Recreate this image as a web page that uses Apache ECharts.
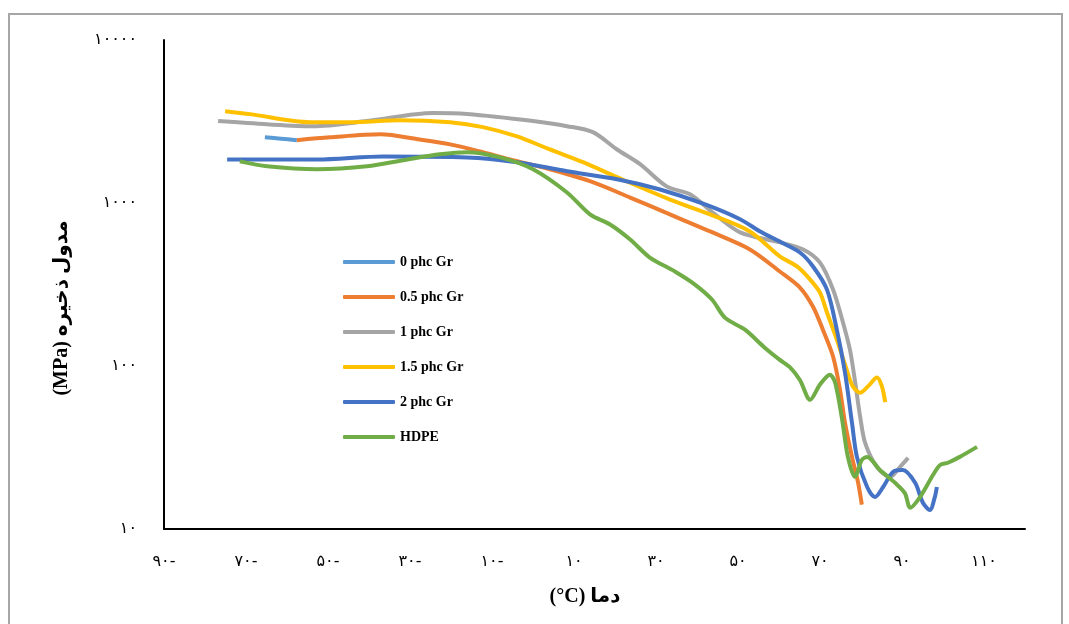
<!DOCTYPE html>
<html>
<head>
<meta charset="utf-8">
<script src="https://cdn.jsdelivr.net/npm/echarts@6/dist/echarts.min.js"></script>
<style>
  html, body { margin: 0; padding: 0; background: #fff; }
  #chart { width: 1069px; height: 624px; }
</style>
</head>
<body>
<div id="chart"></div>
<script>
// series names
var names = ['0 phc Gr', '0.5 phc Gr', '1 phc Gr', '1.5 phc Gr', '2 phc Gr', 'HDPE'];
var colors = ['#5B9BD5', '#ED7D31', '#A5A5A5', '#FFC000', '#4472C4', '#70AD47'];

// temperature (C) and storage modulus (MPa)
var temp0 = [-65.4, -61.5, -57.6];
var mod0 = [2530, 2480, 2430];

var temp05 = [-57.6, -49.5, -37.3, -27.6, -20.2, -12.9, -5.6, 4.1, 13.9, 23.7, 33.4, 43.2, 52.9, 60.2, 65.1, 68.3, 70.7, 73.2, 74.9, 76.1, 77.8, 79.3, 80.2];
var mod05 = [2430, 2530, 2640, 2450, 2290, 2070, 1850, 1610, 1360, 1080, 851, 669, 519, 380, 303, 231, 167, 114, 71, 44.8, 27.7, 19.2, 14.1];

var temp1 = [-76.8, -64.9, -53.7, -40.5, -24.4, -16.1, 0, 8.3, 14.6, 20.5, 26.1, 32.7, 38.3, 44.4, 50.5, 60.2, 65.9, 70, 73.2, 75.6, 77.3, 78.5, 79.8, 81, 83.9, 87.1, 89.5, 91.5];
var mod1 = [3180, 3040, 2960, 3180, 3560, 3510, 3180, 2960, 2720, 2130, 1730, 1260, 1130, 851, 661, 573, 519, 431, 294, 185, 126, 82, 48.7, 33.8, 24, 20.9, 24, 27.3];

var temp15 = [-75.1, -69, -54.4, -44.6, -32.4, -20.2, -12.2, -3.9, 4.1, 12.2, 20.5, 33.4, 43.2, 52.9, 60.2, 64.4, 67.6, 70, 71.7, 74.1, 76.5, 78, 79.8, 81.7, 83.9, 85.1, 85.9];
var mod15 = [3660, 3510, 3130, 3130, 3220, 3130, 2920, 2560, 2130, 1780, 1440, 1050, 851, 669, 470, 408, 339, 282, 213, 145, 95, 75, 68.5, 75, 85, 75, 60];

var temp2 = [-74.6, -52.7, -36.6, -16.1, -3.9, 8.3, 20.5, 31, 42, 50.5, 55.4, 60.2, 65.1, 68.3, 71.7, 74.1, 76.1, 77.8, 79, 81.5, 83.4, 85.4, 87.8, 90.2, 93.2, 95.1, 96.8, 98, 98.5];
var mod2 = [1850, 1850, 1930, 1905, 1780, 1565, 1400, 1210, 980, 795, 669, 580, 497, 408, 294, 167, 91, 44.8, 27.7, 18.1, 15.7, 18.1, 22.4, 23, 19.2, 14.5, 13.1, 15.7, 18.1];

var tempH = [-71.5, -64.9, -52.7, -40.5, -30.7, -22.7, -16.1, -8, 0, 8.3, 13.9, 18.8, 23.7, 28.5, 34.6, 39.5, 43.7, 46.8, 51.7, 56.6, 60.2, 62.7, 65.1, 67.6, 70, 72.4, 73.7, 75.4, 76.8, 78.5, 80.2, 81.5, 84.6, 88.3, 90.7, 92, 94.4, 97.6, 99.3, 101.2, 104.1, 108.3];
var modH = [1800, 1680, 1610, 1680, 1850, 1990, 2050, 1905, 1610, 1160, 851, 738, 597, 463, 380, 316, 255, 198, 167, 129, 109, 98, 82, 62, 77, 88.5, 79, 46.8, 27.7, 20.9, 26.5, 27.7, 23, 19.2, 16.6, 13.5, 15.7, 21.5, 24.7, 25.5, 27.7, 31.9];

var temps = [temp0, temp05, temp1, temp15, temp2, tempH];
var mods = [mod0, mod05, mod1, mod15, mod2, modH];

// persian digits for tick labels
var faDigits = ['۰', '۱', '۲', '۳', '۴', '۵', '۶', '۷', '۸', '۹'];
function toFa(v) {
    var s = String(Math.abs(Math.round(v))).replace(/[0-9]/g, function (d) { return faDigits[+d]; });
    return v < 0 ? s + '-' : s;
}

function pairs(t, m) {
    return t.map(function (x, i) { return [x, m[i]]; });
}

var myChart = echarts.init(document.getElementById('chart'));
myChart.setOption({
    animation: false,
    backgroundColor: '#FFFFFF',
    color: colors,
    grid: { left: 164, top: 40, right: 44, bottom: 95 },
    legend: {
        orient: 'vertical',
        left: 343,
        top: 255,
        padding: 0,
        icon: 'roundRect',
        itemWidth: 52,
        itemHeight: 4,
        itemGap: 21,
        data: names,
        textStyle: {
            fontFamily: "'Liberation Serif', serif",
            fontWeight: 'bold',
            fontSize: 14,
            lineHeight: 14,
            color: '#000'
        }
    },
    xAxis: {
        type: 'value',
        min: -90,
        max: 120,
        interval: 20,
        splitLine: { show: false },
        axisTick: { show: false },
        axisLine: { onZero: false, lineStyle: { color: '#000', width: 2 } },
        axisLabel: {
            margin: 25,
            showMaxLabel: false,
            color: '#000',
            fontSize: 16,
            fontFamily: "'DejaVu Sans', sans-serif",
            formatter: toFa
        }
    },
    yAxis: {
        type: 'log',
        logBase: 10,
        min: 10,
        max: 10000,
        splitLine: { show: false },
        axisTick: { show: false },
        axisLine: { onZero: false, lineStyle: { color: '#000', width: 2 } },
        axisLabel: {
            margin: 27,
            color: '#000',
            fontSize: 16,
            fontFamily: "'DejaVu Sans', sans-serif",
            formatter: toFa
        }
    },
    graphic: [
        {
            type: 'rect',
            shape: { x: 9, y: 14, width: 1053, height: 640 },
            style: { fill: 'none', stroke: '#A6A6A6', lineWidth: 2 },
            silent: true
        },
        {
            type: 'text',
            x: 62,
            y: 308,
            rotation: Math.PI / 2,
            style: {
                text: '(MPa) مدول ذخیره',
                align: 'center',
                verticalAlign: 'middle',
                fill: '#000',
                font: "bold 20px 'Liberation Serif', 'DejaVu Sans', serif"
            }
        },
        {
            type: 'text',
            x: 585,
            y: 597,
            style: {
                text: '(°C) دما',
                align: 'center',
                verticalAlign: 'middle',
                fill: '#000',
                font: "bold 20px 'Liberation Serif', 'DejaVu Sans', serif"
            }
        }
    ],
    series: names.map(function (n, i) {
        return {
            name: n,
            type: 'line',
            smooth: 0.3,
            showSymbol: false,
            symbol: 'none',
            lineStyle: { width: 4, color: colors[i] },
            data: pairs(temps[i], mods[i])
        };
    })
});
</script>
</body>
</html>
